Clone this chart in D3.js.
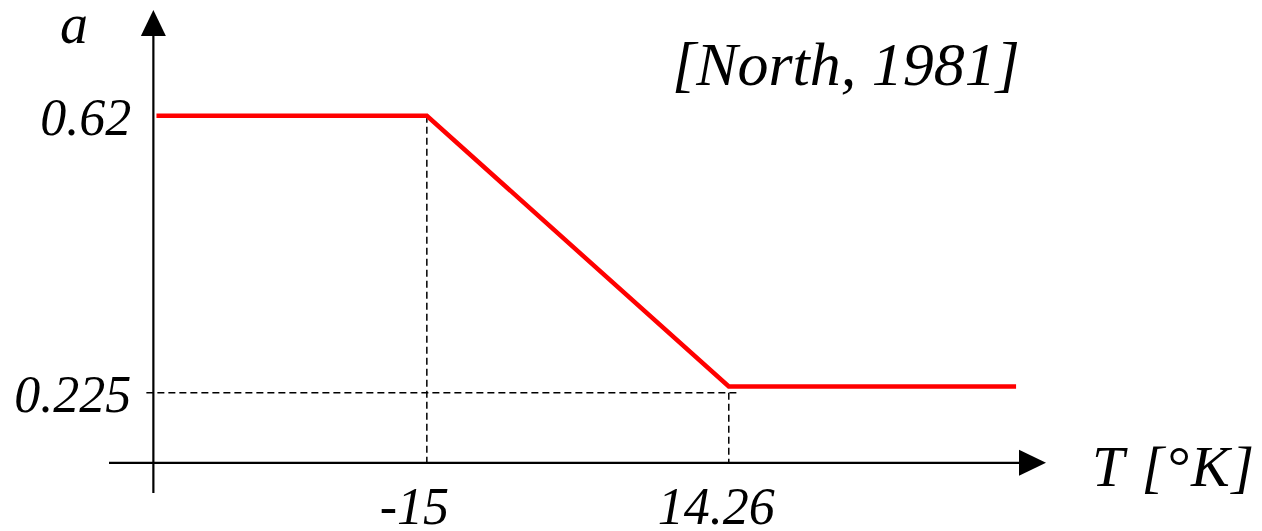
<!DOCTYPE html>
<html>
<head>
<meta charset="utf-8">
<script src="https://cdn.jsdelivr.net/npm/d3@7"></script>
<style>
  body { margin: 0; background: #fff; }
  svg { display: block; }
  .lbl { font-family: "Liberation Serif", "Times New Roman", serif; font-style: italic; fill: #000; }
</style>
</head>
<body>
<div id="chart"></div>
<script>
const FRAME_WIDTH = 1262;
const FRAME_HEIGHT = 531;

// albedo a(T), piecewise linear
const T_POINTS = [-41.2, -15, 14.26, 42.1];
const ALBEDO = [0.62, 0.62, 0.234, 0.234];

// tick labels
const X_TICKS = [-15, 14.26];
const X_TICK_LABELS = ["-15", "14.26"];
const Y_TICKS = [0.62, 0.225];
const Y_TICK_LABELS = ["0.62", "0.225"];

// where the axes cross, and how far they reach
const X_AXIS_AT = 0.125;
const Y_AXIS_AT = -41.5;
const T_RANGE = [-45.8, 45];
const A_RANGE = [0.082, 0.771];

const SVG = d3.select("#chart")
  .append("svg")
  .attr("width", FRAME_WIDTH)
  .attr("height", FRAME_HEIGHT);

const X_SCALE = d3.scaleLinear()
  .domain(T_RANGE)
  .range([109, 1046]);

const Y_SCALE = d3.scaleLinear()
  .domain(A_RANGE)
  .range([493, 10]);

const x0 = X_SCALE(Y_AXIS_AT);
const y0 = Y_SCALE(X_AXIS_AT);

// dashed guides
const guides = SVG.append("g")
  .attr("stroke", "#000")
  .attr("stroke-width", 1.5)
  .attr("stroke-dasharray", "7,4");

guides.append("line")
  .attr("x1", x0 - 7).attr("x2", X_SCALE(X_TICKS[1]) + 8)
  .attr("y1", Y_SCALE(Y_TICKS[1])).attr("y2", Y_SCALE(Y_TICKS[1]));

guides.append("line")
  .attr("x1", X_SCALE(X_TICKS[0])).attr("x2", X_SCALE(X_TICKS[0]))
  .attr("y1", Y_SCALE(Y_TICKS[0])).attr("y2", y0);

guides.append("line")
  .attr("x1", X_SCALE(X_TICKS[1])).attr("x2", X_SCALE(X_TICKS[1]))
  .attr("y1", Y_SCALE(Y_TICKS[1])).attr("y2", y0);

// axes lines with arrow heads
SVG.append("line")
  .attr("x1", X_SCALE(T_RANGE[0])).attr("x2", X_SCALE(T_RANGE[1]) - 20)
  .attr("y1", y0).attr("y2", y0)
  .attr("stroke", "#000").attr("stroke-width", 2.2);

SVG.append("line")
  .attr("x1", x0).attr("x2", x0)
  .attr("y1", Y_SCALE(A_RANGE[0])).attr("y2", Y_SCALE(A_RANGE[1]) + 20)
  .attr("stroke", "#000").attr("stroke-width", 2.2);

const xt = X_SCALE(T_RANGE[1]);
SVG.append("path")
  .attr("d", `M${xt},${y0}L${xt - 27},${y0 - 13}L${xt - 27},${y0 + 13}Z`)
  .attr("fill", "#000");

const yt = Y_SCALE(A_RANGE[1]);
SVG.append("path")
  .attr("d", `M${x0},${yt}L${x0 - 12.5},${yt + 26}L${x0 + 12.5},${yt + 26}Z`)
  .attr("fill", "#000");

// tick labels through d3 axes
const xAxis = SVG.append("g")
  .attr("transform", "translate(0," + y0 + ")")
  .call(d3.axisBottom(X_SCALE)
    .tickValues(X_TICKS)
    .tickFormat((d, i) => X_TICK_LABELS[i])
    .tickSize(0)
    .tickPadding(24));
xAxis.select(".domain").remove();
xAxis.selectAll("text")
  .attr("class", "lbl")
  .attr("font-size", 52)
  .attr("dx", -13);

const yAxis = SVG.append("g")
  .attr("transform", "translate(" + x0 + ",0)")
  .call(d3.axisLeft(Y_SCALE)
    .tickValues(Y_TICKS)
    .tickFormat((d, i) => Y_TICK_LABELS[i])
    .tickSize(0)
    .tickPadding(22));
yAxis.select(".domain").remove();
yAxis.selectAll("text")
  .attr("class", "lbl")
  .attr("font-size", 52)
  .attr("dy", "0.36em");

// the red albedo curve
const line = d3.line()
  .x((d, i) => X_SCALE(T_POINTS[i]))
  .y((d) => Y_SCALE(d));

SVG.append("path")
  .datum(ALBEDO)
  .attr("d", line)
  .attr("fill", "none")
  .attr("stroke", "#ff0000")
  .attr("stroke-width", 4.5)
  .attr("stroke-linejoin", "miter");

// axis titles and citation
SVG.append("text").attr("class", "lbl")
  .attr("x", 60).attr("y", 43)
  .attr("font-size", 56)
  .text("a");

SVG.append("text").attr("class", "lbl")
  .attr("x", 1092).attr("y", 486)
  .attr("font-size", 58)
  .attr("textLength", 162)
  .attr("lengthAdjust", "spacing")
  .text("T [°K]");

SVG.append("text").attr("class", "lbl")
  .attr("x", 672).attr("y", 85)
  .attr("font-size", 62)
  .text("[North, 1981]");
</script>
</body>
</html>
